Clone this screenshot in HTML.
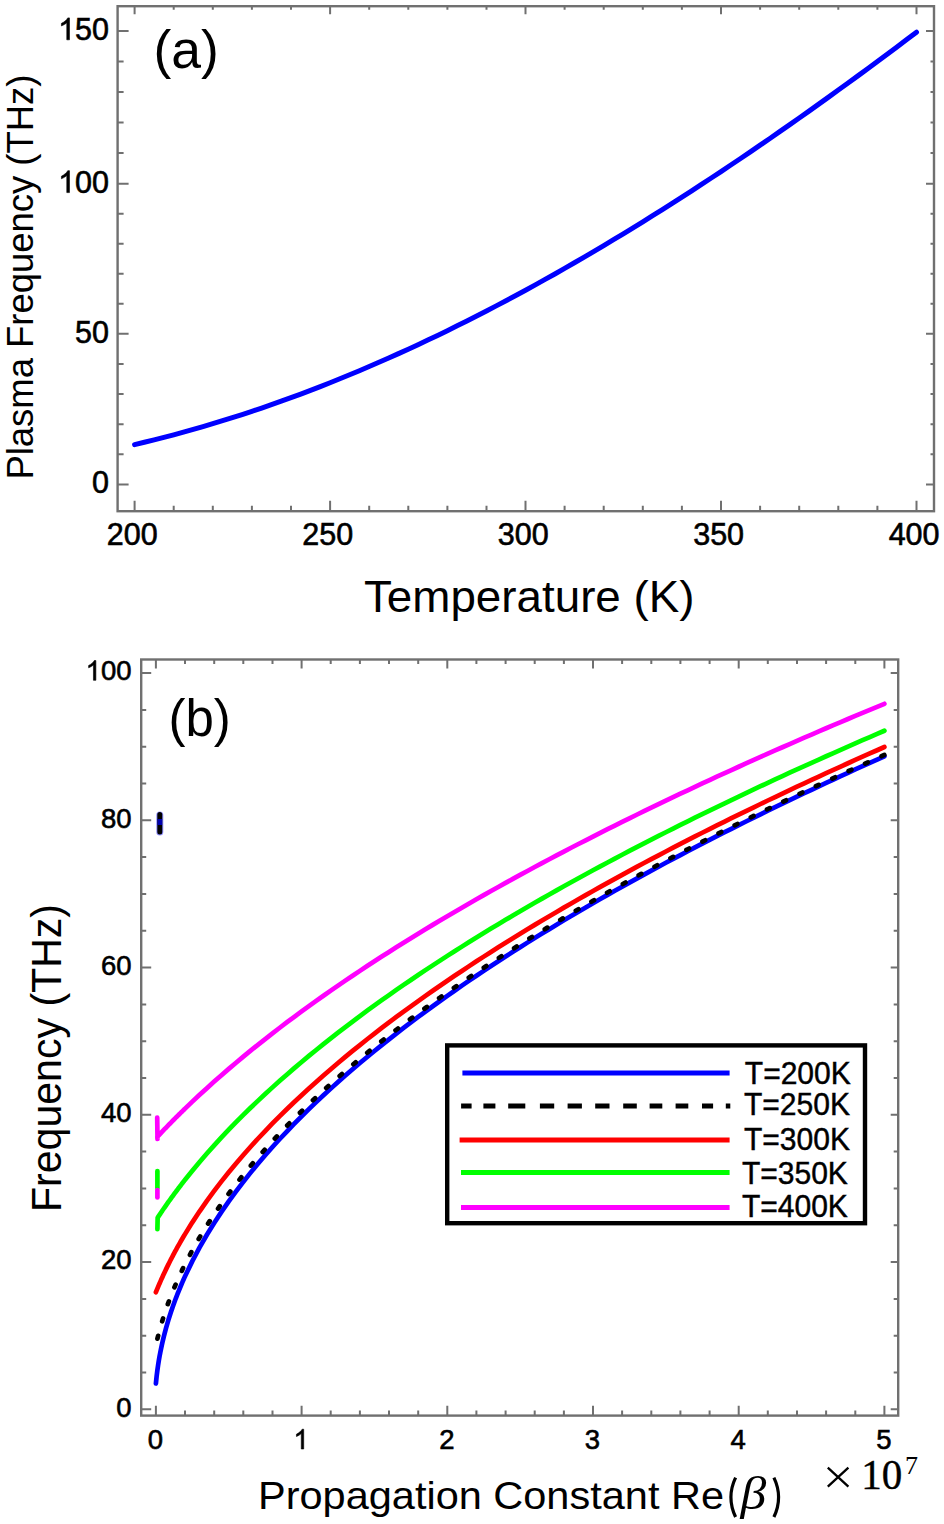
<!DOCTYPE html>
<html><head><meta charset="utf-8"><style>
html,body{margin:0;padding:0;background:#fff;}
svg{display:block;}
text{font-family:"Liberation Sans",sans-serif;fill:#000;}
</style></head><body>
<svg width="944" height="1524" viewBox="0 0 944 1524">
<rect width="944" height="1524" fill="#fff"/>
<rect x="117.6" y="6.2" width="816.4" height="505.0" fill="none" stroke="#707070" stroke-width="2.4"/>
<rect x="141.2" y="659.5" width="757.0" height="756.0999999999999" fill="none" stroke="#707070" stroke-width="2.4"/>
<path d="M134.6 511.2v-10.5M134.6 6.2v8M173.7 511.2v-5.5M173.7 6.2v3.5M212.8 511.2v-5.5M212.8 6.2v3.5M251.9 511.2v-5.5M251.9 6.2v3.5M291.0 511.2v-5.5M291.0 6.2v3.5M330.1 511.2v-10.5M330.1 6.2v8M369.2 511.2v-5.5M369.2 6.2v3.5M408.3 511.2v-5.5M408.3 6.2v3.5M447.4 511.2v-5.5M447.4 6.2v3.5M486.5 511.2v-5.5M486.5 6.2v3.5M525.5 511.2v-10.5M525.5 6.2v8M564.6 511.2v-5.5M564.6 6.2v3.5M603.7 511.2v-5.5M603.7 6.2v3.5M642.8 511.2v-5.5M642.8 6.2v3.5M681.9 511.2v-5.5M681.9 6.2v3.5M721.0 511.2v-10.5M721.0 6.2v8M760.1 511.2v-5.5M760.1 6.2v3.5M799.2 511.2v-5.5M799.2 6.2v3.5M838.3 511.2v-5.5M838.3 6.2v3.5M877.4 511.2v-5.5M877.4 6.2v3.5M916.5 511.2v-10.5M916.5 6.2v8M117.6 484.4h11M934.0 484.4h-8M117.6 454.3h6M934.0 454.3h-3.5M117.6 424.2h6M934.0 424.2h-3.5M117.6 394.0h6M934.0 394.0h-3.5M117.6 363.9h6M934.0 363.9h-3.5M117.6 333.8h11M934.0 333.8h-8M117.6 303.8h6M934.0 303.8h-3.5M117.6 273.8h6M934.0 273.8h-3.5M117.6 243.7h6M934.0 243.7h-3.5M117.6 213.7h6M934.0 213.7h-3.5M117.6 183.7h11M934.0 183.7h-8M117.6 153.1h6M934.0 153.1h-3.5M117.6 122.6h6M934.0 122.6h-3.5M117.6 92.0h6M934.0 92.0h-3.5M117.6 61.5h6M934.0 61.5h-3.5M117.6 30.9h11M934.0 30.9h-8M155.9 1415.6v-9.8M155.9 659.5v9M185.0 1415.6v-5M185.0 659.5v4.5M214.2 1415.6v-5M214.2 659.5v4.5M243.3 1415.6v-5M243.3 659.5v4.5M272.5 1415.6v-5M272.5 659.5v4.5M301.6 1415.6v-9.8M301.6 659.5v9M330.7 1415.6v-5M330.7 659.5v4.5M359.9 1415.6v-5M359.9 659.5v4.5M389.0 1415.6v-5M389.0 659.5v4.5M418.2 1415.6v-5M418.2 659.5v4.5M447.3 1415.6v-9.8M447.3 659.5v9M476.4 1415.6v-5M476.4 659.5v4.5M505.6 1415.6v-5M505.6 659.5v4.5M534.7 1415.6v-5M534.7 659.5v4.5M563.9 1415.6v-5M563.9 659.5v4.5M593.0 1415.6v-9.8M593.0 659.5v9M622.1 1415.6v-5M622.1 659.5v4.5M651.3 1415.6v-5M651.3 659.5v4.5M680.4 1415.6v-5M680.4 659.5v4.5M709.6 1415.6v-5M709.6 659.5v4.5M738.7 1415.6v-9.8M738.7 659.5v9M767.8 1415.6v-5M767.8 659.5v4.5M797.0 1415.6v-5M797.0 659.5v4.5M826.1 1415.6v-5M826.1 659.5v4.5M855.3 1415.6v-5M855.3 659.5v4.5M884.4 1415.6v-9.8M884.4 659.5v9M141.2 1409.3h10M898.2 1409.3h-7.5M141.2 1372.5h5M898.2 1372.5h-4.5M141.2 1335.7h5M898.2 1335.7h-4.5M141.2 1298.9h5M898.2 1298.9h-4.5M141.2 1262.1h10M898.2 1262.1h-7.5M141.2 1225.2h5M898.2 1225.2h-4.5M141.2 1188.4h5M898.2 1188.4h-4.5M141.2 1151.6h5M898.2 1151.6h-4.5M141.2 1114.8h10M898.2 1114.8h-7.5M141.2 1078.0h5M898.2 1078.0h-4.5M141.2 1041.2h5M898.2 1041.2h-4.5M141.2 1004.4h5M898.2 1004.4h-4.5M141.2 967.6h10M898.2 967.6h-7.5M141.2 930.8h5M898.2 930.8h-4.5M141.2 894.0h5M898.2 894.0h-4.5M141.2 857.1h5M898.2 857.1h-4.5M141.2 820.3h10M898.2 820.3h-7.5M141.2 783.5h5M898.2 783.5h-4.5M141.2 746.7h5M898.2 746.7h-4.5M141.2 709.9h5M898.2 709.9h-4.5M141.2 673.1h10M898.2 673.1h-7.5" stroke="#707070" stroke-width="2" fill="none"/>
<polyline points="134.60,444.63 144.37,442.30 154.15,439.88 163.92,437.39 173.69,434.81 183.47,432.16 193.24,429.42 203.02,426.61 212.79,423.71 222.56,420.73 232.34,417.68 242.11,414.54 251.88,411.32 261.66,408.02 271.43,404.65 281.21,401.19 290.98,397.65 300.75,394.04 310.53,390.35 320.30,386.57 330.07,382.72 339.85,378.80 349.62,374.79 359.40,370.71 369.17,366.56 378.94,362.33 388.72,358.02 398.49,353.64 408.26,349.19 418.04,344.66 427.81,340.06 437.59,335.39 447.36,330.65 457.13,325.83 466.91,320.95 476.68,315.99 486.46,310.97 496.23,305.88 506.00,300.72 515.78,295.50 525.55,290.21 535.32,284.85 545.10,279.43 554.87,273.95 564.64,268.40 574.42,262.79 584.19,257.11 593.97,251.38 603.74,245.58 613.51,239.73 623.29,233.81 633.06,227.84 642.84,221.81 652.61,215.72 662.38,209.58 672.16,203.38 681.93,197.12 691.70,190.81 701.48,184.45 711.25,178.03 721.02,171.56 730.80,165.04 740.57,158.47 750.35,151.85 760.12,145.17 769.89,138.45 779.67,131.68 789.44,124.86 799.22,118.00 808.99,111.09 818.76,104.13 828.54,97.13 838.31,90.08 848.08,82.99 857.86,75.86 867.63,68.68 877.40,61.46 887.18,54.20 896.95,46.90 906.73,39.55 916.50,32.17" fill="none" stroke="#0000ff" stroke-width="5" stroke-linecap="round" stroke-linejoin="round"/>
<polyline points="155.90,1383.53 156.63,1376.29 157.36,1370.37 158.09,1365.24 158.81,1360.65 159.54,1356.45 160.27,1352.57 161.00,1348.93 161.73,1345.50 162.46,1342.25 163.19,1339.15 163.91,1336.18 164.64,1333.32 165.37,1330.57 166.10,1327.91 166.83,1325.34 167.56,1322.84 168.28,1320.41 169.01,1318.05 169.74,1315.74 170.47,1313.49 171.20,1311.30 171.93,1309.15 172.66,1307.05 173.38,1304.99 174.11,1302.96 174.84,1300.98 175.57,1299.03 176.30,1297.12 177.03,1295.24 177.75,1293.39 178.48,1291.56 179.21,1289.77 179.94,1288.00 180.67,1286.26 181.40,1284.54 182.13,1282.85 182.85,1281.17 183.58,1279.52 184.31,1277.89 185.04,1276.28 192.32,1261.14 199.61,1247.41 206.89,1234.76 214.18,1222.96 221.46,1211.87 228.75,1201.36 236.04,1191.37 243.32,1181.81 250.60,1172.64 257.89,1163.81 265.18,1155.28 272.46,1147.04 279.75,1139.04 287.03,1131.28 294.31,1123.72 301.60,1116.37 308.88,1109.19 316.17,1102.18 323.45,1095.32 330.74,1088.61 338.02,1082.04 345.31,1075.60 352.59,1069.28 359.88,1063.08 367.16,1056.98 374.45,1050.99 381.73,1045.10 389.02,1039.30 396.30,1033.59 403.59,1027.97 410.87,1022.43 418.16,1016.96 425.44,1011.57 432.73,1006.26 440.01,1001.01 447.30,995.83 454.58,990.71 461.87,985.66 469.15,980.66 476.44,975.73 483.73,970.84 491.01,966.02 498.29,961.24 505.58,956.51 512.87,951.84 520.15,947.21 527.43,942.62 534.72,938.08 542.00,933.59 549.29,929.13 556.57,924.72 563.86,920.35 571.14,916.01 578.43,911.72 585.71,907.46 593.00,903.23 600.28,899.04 607.57,894.89 614.85,890.77 622.14,886.68 629.42,882.62 636.71,878.59 644.00,874.60 651.28,870.63 658.56,866.70 665.85,862.79 673.13,858.90 680.42,855.05 687.70,851.22 694.99,847.42 702.27,843.65 709.56,839.90 716.84,836.17 724.13,832.47 731.41,828.79 738.70,825.13 745.98,821.50 753.27,817.89 760.55,814.30 767.84,810.73 775.12,807.19 782.41,803.66 789.69,800.16 796.98,796.67 804.26,793.21 811.55,789.76 818.83,786.34 826.12,782.93 833.40,779.54 840.69,776.17 847.97,772.82 855.26,769.48 862.54,766.16 869.83,762.86 877.11,759.58 884.40,756.31" fill="none" stroke="#0000ff" stroke-width="4.7" stroke-linecap="round" stroke-linejoin="round"/>
<polyline points="155.90,1345.25 156.63,1342.02 157.36,1338.94 158.09,1335.99 158.81,1333.15 159.54,1330.41 160.27,1327.77 161.00,1325.21 161.73,1322.73 162.46,1320.31 163.19,1317.96 163.91,1315.67 164.64,1313.43 165.37,1311.24 166.10,1309.10 166.83,1307.01 167.56,1304.95 168.28,1302.94 169.01,1300.97 169.74,1299.03 170.47,1297.12 171.20,1295.24 171.93,1293.40 172.66,1291.59 173.38,1289.80 174.11,1288.04 174.84,1286.30 175.57,1284.59 176.30,1282.90 177.03,1281.23 177.75,1279.59 178.48,1277.96 179.21,1276.36 179.94,1274.77 180.67,1273.20 181.40,1271.66 182.13,1270.12 182.85,1268.61 183.58,1267.11 184.31,1265.62 185.04,1264.16 192.32,1250.22 199.61,1237.40 206.89,1225.48 214.18,1214.28 221.46,1203.70 228.75,1193.63 236.04,1184.01 243.32,1174.79 250.60,1165.91 257.89,1157.35 265.18,1149.07 272.46,1141.05 279.75,1133.26 287.03,1125.68 294.31,1118.30 301.60,1111.10 308.88,1104.07 316.17,1097.20 323.45,1090.48 330.74,1083.90 338.02,1077.44 345.31,1071.11 352.59,1064.90 359.88,1058.80 367.16,1052.80 374.45,1046.90 381.73,1041.09 389.02,1035.38 396.30,1029.75 403.59,1024.20 410.87,1018.74 418.16,1013.34 425.44,1008.02 432.73,1002.77 440.01,997.59 447.30,992.47 454.58,987.42 461.87,982.42 469.15,977.48 476.44,972.60 483.73,967.77 491.01,962.99 498.29,958.26 505.58,953.59 512.87,948.96 520.15,944.37 527.43,939.84 534.72,935.34 542.00,930.89 549.29,926.47 556.57,922.10 563.86,917.77 571.14,913.47 578.43,909.22 585.71,904.99 593.00,900.81 600.28,896.65 607.57,892.53 614.85,888.44 622.14,884.39 629.42,880.37 636.71,876.37 644.00,872.41 651.28,868.47 658.56,864.56 665.85,860.69 673.13,856.83 680.42,853.01 687.70,849.21 694.99,845.44 702.27,841.69 709.56,837.96 716.84,834.27 724.13,830.59 731.41,826.94 738.70,823.31 745.98,819.70 753.27,816.11 760.55,812.55 767.84,809.01 775.12,805.48 782.41,801.98 789.69,798.50 796.98,795.04 804.26,791.60 811.55,788.17 818.83,784.77 826.12,781.38 833.40,778.01 840.69,774.66 847.97,771.33 855.26,768.02 862.54,764.72 869.83,761.44 877.11,758.17 884.40,754.92" fill="none" stroke="#000" stroke-width="4.7" stroke-linecap="round" stroke-dasharray="3 15.04" stroke-dashoffset="11.3"/>
<polyline points="155.90,1292.24 156.63,1290.44 157.36,1288.67 158.09,1286.92 158.81,1285.20 159.54,1283.50 160.27,1281.82 161.00,1280.16 161.73,1278.53 162.46,1276.91 163.19,1275.32 163.91,1273.74 164.64,1272.18 165.37,1270.64 166.10,1269.12 166.83,1267.61 167.56,1266.12 168.28,1264.64 169.01,1263.18 169.74,1261.73 170.47,1260.30 171.20,1258.88 171.93,1257.48 172.66,1256.08 173.38,1254.70 174.11,1253.34 174.84,1251.98 175.57,1250.63 176.30,1249.30 177.03,1247.98 177.75,1246.67 178.48,1245.37 179.21,1244.07 179.94,1242.79 180.67,1241.52 181.40,1240.26 182.13,1239.01 182.85,1237.77 183.58,1236.53 184.31,1235.31 185.04,1234.09 192.32,1222.36 199.61,1211.32 206.89,1200.86 214.18,1190.91 221.46,1181.39 228.75,1172.25 236.04,1163.45 243.32,1154.95 250.60,1146.73 257.89,1138.76 265.18,1131.02 272.46,1123.49 279.75,1116.15 287.03,1108.99 294.31,1101.99 301.60,1095.16 308.88,1088.46 316.17,1081.91 323.45,1075.48 330.74,1069.18 338.02,1062.99 345.31,1056.91 352.59,1050.93 359.88,1045.05 367.16,1039.26 374.45,1033.56 381.73,1027.95 389.02,1022.42 396.30,1016.97 403.59,1011.59 410.87,1006.28 418.16,1001.04 425.44,995.87 432.73,990.76 440.01,985.72 447.30,980.73 454.58,975.80 461.87,970.93 469.15,966.11 476.44,961.34 483.73,956.62 491.01,951.95 498.29,947.33 505.58,942.76 512.87,938.22 520.15,933.73 527.43,929.29 534.72,924.88 542.00,920.52 549.29,916.19 556.57,911.90 563.86,907.65 571.14,903.43 578.43,899.25 585.71,895.10 593.00,890.98 600.28,886.90 607.57,882.85 614.85,878.83 622.14,874.84 629.42,870.88 636.71,866.94 644.00,863.04 651.28,859.17 658.56,855.32 665.85,851.50 673.13,847.70 680.42,843.93 687.70,840.18 694.99,836.46 702.27,832.77 709.56,829.09 716.84,825.44 724.13,821.81 731.41,818.21 738.70,814.62 745.98,811.06 753.27,807.52 760.55,804.00 767.84,800.50 775.12,797.02 782.41,793.56 789.69,790.12 796.98,786.70 804.26,783.30 811.55,779.91 818.83,776.54 826.12,773.20 833.40,769.86 840.69,766.55 847.97,763.25 855.26,759.97 862.54,756.71 869.83,753.46 877.11,750.23 884.40,747.01" fill="none" stroke="#ff0000" stroke-width="4.7" stroke-linecap="round" stroke-linejoin="round"/>
<polyline points="157.40,1229.10 157.65,1217.70 158.33,1216.66 159.02,1215.63 159.70,1214.60 160.39,1213.58 161.07,1212.56 161.76,1211.55 162.44,1210.54 163.13,1209.54 163.81,1208.54 164.50,1207.55 165.18,1206.57 165.87,1205.58 166.55,1204.61 167.24,1203.63 167.92,1202.66 168.61,1201.70 169.29,1200.74 169.97,1199.79 170.66,1198.84 171.34,1197.89 172.03,1196.95 172.71,1196.01 173.40,1195.08 174.08,1194.15 174.77,1193.22 175.45,1192.30 176.14,1191.38 176.82,1190.47 177.51,1189.56 178.19,1188.65 178.88,1187.75 179.56,1186.85 180.25,1185.95 180.93,1185.06 181.62,1184.17 182.30,1183.29 182.99,1182.40 183.67,1181.53 184.36,1180.65 185.04,1179.78 192.32,1170.71 199.61,1161.97 206.89,1153.52 214.18,1145.35 221.46,1137.43 228.75,1129.72 236.04,1122.23 243.32,1114.92 250.60,1107.80 257.89,1100.83 265.18,1094.02 272.46,1087.36 279.75,1080.83 287.03,1074.42 294.31,1068.14 301.60,1061.97 308.88,1055.91 316.17,1049.95 323.45,1044.09 330.74,1038.32 338.02,1032.64 345.31,1027.04 352.59,1021.53 359.88,1016.09 367.16,1010.73 374.45,1005.43 381.73,1000.21 389.02,995.05 396.30,989.95 403.59,984.92 410.87,979.94 418.16,975.03 425.44,970.16 432.73,965.35 440.01,960.60 447.30,955.89 454.58,951.23 461.87,946.62 469.15,942.05 476.44,937.53 483.73,933.04 491.01,928.61 498.29,924.21 505.58,919.85 512.87,915.53 520.15,911.25 527.43,907.00 534.72,902.79 542.00,898.62 549.29,894.48 556.57,890.37 563.86,886.29 571.14,882.25 578.43,878.23 585.71,874.25 593.00,870.29 600.28,866.37 607.57,862.47 614.85,858.60 622.14,854.76 629.42,850.94 636.71,847.15 644.00,843.39 651.28,839.64 658.56,835.93 665.85,832.24 673.13,828.57 680.42,824.92 687.70,821.30 694.99,817.70 702.27,814.12 709.56,810.56 716.84,807.03 724.13,803.51 731.41,800.02 738.70,796.54 745.98,793.08 753.27,789.65 760.55,786.23 767.84,782.83 775.12,779.45 782.41,776.09 789.69,772.74 796.98,769.41 804.26,766.10 811.55,762.81 818.83,759.53 826.12,756.27 833.40,753.03 840.69,749.80 847.97,746.59 855.26,743.39 862.54,740.21 869.83,737.05 877.11,733.89 884.40,730.76" fill="none" stroke="#00ff00" stroke-width="4.7" stroke-linecap="round" stroke-linejoin="round"/>
<polyline points="157.20,1117.50 157.50,1139.00 157.36,1136.74 158.05,1136.00 158.74,1135.27 159.43,1134.53 160.13,1133.80 160.82,1133.07 161.51,1132.34 162.20,1131.61 162.89,1130.89 163.59,1130.17 164.28,1129.44 164.97,1128.73 165.66,1128.01 166.35,1127.29 167.05,1126.58 167.74,1125.87 168.43,1125.16 169.12,1124.45 169.81,1123.74 170.51,1123.04 171.20,1122.33 171.89,1121.63 172.58,1120.93 173.27,1120.23 173.97,1119.54 174.66,1118.84 175.35,1118.15 176.04,1117.46 176.74,1116.77 177.43,1116.08 178.12,1115.39 178.81,1114.71 179.50,1114.03 180.20,1113.34 180.89,1112.66 181.58,1111.99 182.27,1111.31 182.96,1110.63 183.66,1109.96 184.35,1109.29 185.04,1108.61 192.32,1101.64 199.61,1094.82 206.89,1088.15 214.18,1081.61 221.46,1075.19 228.75,1068.90 236.04,1062.73 243.32,1056.66 250.60,1050.69 257.89,1044.83 265.18,1039.05 272.46,1033.36 279.75,1027.76 287.03,1022.24 294.31,1016.80 301.60,1011.43 308.88,1006.13 316.17,1000.91 323.45,995.74 330.74,990.65 338.02,985.61 345.31,980.63 352.59,975.71 359.88,970.84 367.16,966.03 374.45,961.27 381.73,956.56 389.02,951.90 396.30,947.29 403.59,942.72 410.87,938.19 418.16,933.71 425.44,929.27 432.73,924.87 440.01,920.51 447.30,916.19 454.58,911.91 461.87,907.66 469.15,903.45 476.44,899.27 483.73,895.13 491.01,891.02 498.29,886.94 505.58,882.89 512.87,878.88 520.15,874.90 527.43,870.94 534.72,867.01 542.00,863.12 549.29,859.25 556.57,855.40 563.86,851.58 571.14,847.79 578.43,844.03 585.71,840.29 593.00,836.57 600.28,832.88 607.57,829.21 614.85,825.56 622.14,821.94 629.42,818.34 636.71,814.76 644.00,811.20 651.28,807.67 658.56,804.15 665.85,800.66 673.13,797.18 680.42,793.72 687.70,790.29 694.99,786.87 702.27,783.47 709.56,780.09 716.84,776.73 724.13,773.38 731.41,770.05 738.70,766.74 745.98,763.45 753.27,760.17 760.55,756.91 767.84,753.67 775.12,750.44 782.41,747.23 789.69,744.03 796.98,740.85 804.26,737.69 811.55,734.54 818.83,731.40 826.12,728.28 833.40,725.17 840.69,722.07 847.97,718.99 855.26,715.93 862.54,712.87 869.83,709.84 877.11,706.81 884.40,703.80" fill="none" stroke="#ff00ff" stroke-width="4.7" stroke-linecap="round" stroke-linejoin="round"/>
<path d="M157.4 1171V1188" stroke="#00ff00" stroke-width="4.7" stroke-linecap="round"/>
<path d="M157.4 1190V1197.5" stroke="#ff00ff" stroke-width="4.7" stroke-linecap="round"/>
<path d="M159.8 815V832" stroke="#9090ff" stroke-width="7" stroke-linecap="round"/>
<path d="M159.8 814.5V832" stroke="#000" stroke-width="5" stroke-linecap="round"/>
<path d="M159.8 819V825" stroke="#0000b0" stroke-width="4.6"/>
<rect x="447.2" y="1045.4" width="417.8" height="177.8" fill="#fff" stroke="#000" stroke-width="4.4"/>
<path d="M462.4 1073.0H729.6" stroke="#0000ff" stroke-width="5"/>
<path d="M459.6 1140.1H729.6" stroke="#ff0000" stroke-width="5"/>
<path d="M461 1172.6H729.6" stroke="#00ff00" stroke-width="5"/>
<path d="M461 1207.4H729.6" stroke="#ff00ff" stroke-width="5"/>
<path d="M461.1 1106.0H471.6M483.4 1106.0H495.4M508.2 1106.0H525.3M539.9 1106.0H554.2M567.6 1106.0H581.9M595.2 1106.0H609.5M623.2 1106.0H636.8M649.6 1106.0H662.3M675.6 1106.0H688.3M702 1106.0H713.1M725.8 1106.0H730.3" stroke="#000" stroke-width="4.8"/>
<text x="744.8" y="1083.5" font-size="31" textLength="106" lengthAdjust="spacingAndGlyphs" stroke="#000" stroke-width="0.45">T=200K</text>
<text x="744.0" y="1115.4" font-size="31" textLength="106" lengthAdjust="spacingAndGlyphs" stroke="#000" stroke-width="0.45">T=250K</text>
<text x="744.0" y="1150.1" font-size="31" textLength="106" lengthAdjust="spacingAndGlyphs" stroke="#000" stroke-width="0.45">T=300K</text>
<text x="741.9" y="1184.4" font-size="31" textLength="106" lengthAdjust="spacingAndGlyphs" stroke="#000" stroke-width="0.45">T=350K</text>
<text x="741.9" y="1216.6" font-size="31" textLength="106" lengthAdjust="spacingAndGlyphs" stroke="#000" stroke-width="0.45">T=400K</text>
<text x="106.76" y="545.00" font-size="30.5" stroke="#000" stroke-width="0.6">200</text>
<text x="302.23" y="545.00" font-size="30.5" stroke="#000" stroke-width="0.6">250</text>
<text x="497.71" y="545.00" font-size="30.5" stroke="#000" stroke-width="0.6">300</text>
<text x="693.18" y="545.00" font-size="30.5" stroke="#000" stroke-width="0.6">350</text>
<text x="888.66" y="545.00" font-size="30.5" stroke="#000" stroke-width="0.6">400</text>
<text x="92.04" y="493.30" font-size="30.5" stroke="#000" stroke-width="0.6">0</text>
<text x="75.07" y="342.70" font-size="30.5" stroke="#000" stroke-width="0.6">50</text>
<text x="58.11" y="192.60" font-size="30.5" stroke="#000" stroke-width="0.6"> 00</text>
<path d="M763 0H583V1147Q518 1085 412 1023Q307 961 223 930V1104Q374 1175 487 1276Q600 1377 647 1472H763Z" transform="translate(58.11 192.60) scale(0.01489 -0.01489)" fill="#000" stroke="#000" stroke-width="40.3"/>
<text x="58.11" y="39.80" font-size="30.5" stroke="#000" stroke-width="0.6"> 50</text>
<path d="M763 0H583V1147Q518 1085 412 1023Q307 961 223 930V1104Q374 1175 487 1276Q600 1377 647 1472H763Z" transform="translate(58.11 39.80) scale(0.01489 -0.01489)" fill="#000" stroke="#000" stroke-width="40.3"/>
<text x="153.5" y="68.2" font-size="53.5">(a)</text>
<text x="364" y="611.9" font-size="44.5" textLength="330.5" lengthAdjust="spacingAndGlyphs">Temperature (K)</text>
<text transform="translate(33.2 479.6) rotate(-90)" font-size="37" textLength="405" lengthAdjust="spacingAndGlyphs">Plasma Frequency (THz)</text>
<text x="147.75" y="1449.00" font-size="27.5" stroke="#000" stroke-width="0.6">0</text>
<text x="293.45" y="1449.00" font-size="27.5" stroke="#000" stroke-width="0.6"> </text>
<path d="M763 0H583V1147Q518 1085 412 1023Q307 961 223 930V1104Q374 1175 487 1276Q600 1377 647 1472H763Z" transform="translate(293.45 1449.00) scale(0.01343 -0.01343)" fill="#000" stroke="#000" stroke-width="44.7"/>
<text x="439.15" y="1449.00" font-size="27.5" stroke="#000" stroke-width="0.6">2</text>
<text x="584.85" y="1449.00" font-size="27.5" stroke="#000" stroke-width="0.6">3</text>
<text x="730.55" y="1449.00" font-size="27.5" stroke="#000" stroke-width="0.6">4</text>
<text x="876.25" y="1449.00" font-size="27.5" stroke="#000" stroke-width="0.6">5</text>
<text x="116.21" y="1416.50" font-size="27.5" stroke="#000" stroke-width="0.6">0</text>
<text x="100.91" y="1269.26" font-size="27.5" stroke="#000" stroke-width="0.6">20</text>
<text x="100.91" y="1122.02" font-size="27.5" stroke="#000" stroke-width="0.6">40</text>
<text x="100.91" y="974.78" font-size="27.5" stroke="#000" stroke-width="0.6">60</text>
<text x="100.91" y="827.54" font-size="27.5" stroke="#000" stroke-width="0.6">80</text>
<text x="85.62" y="680.30" font-size="27.5" stroke="#000" stroke-width="0.6"> 00</text>
<path d="M763 0H583V1147Q518 1085 412 1023Q307 961 223 930V1104Q374 1175 487 1276Q600 1377 647 1472H763Z" transform="translate(85.62 680.30) scale(0.01343 -0.01343)" fill="#000" stroke="#000" stroke-width="44.7"/>
<text x="168.5" y="736" font-size="51">(b)</text>
<text transform="translate(61 1212) rotate(-90)" font-size="42.5" textLength="308" lengthAdjust="spacingAndGlyphs">Frequency (THz)</text>
<text x="258" y="1509" font-size="39.5" textLength="466" lengthAdjust="spacingAndGlyphs">Propagation Constant Re</text>
<path d="M735.6 1477.6Q726.2 1497.3 735.6 1517" stroke="#000" stroke-width="3.2" fill="none"/>
<path d="M773.9 1477.6Q783.3 1497.3 773.9 1517" stroke="#000" stroke-width="3.2" fill="none"/>
<text x="740.6" y="1509.4" font-size="46.9" textLength="25.7" lengthAdjust="spacingAndGlyphs" style="font-family:Liberation Serif;font-style:italic">β</text>
<path d="M827.8 1467.6L848.4 1486.6M848.4 1467.6L827.8 1486.6" stroke="#000" stroke-width="2.3" stroke-linecap="butt"/>
<text x="861.3" y="1489" font-size="41.5" textLength="41" lengthAdjust="spacingAndGlyphs" stroke="#000" stroke-width="0.4" style="font-family:Liberation Serif">10</text>
<text x="905" y="1474" font-size="26" style="font-family:Liberation Serif">7</text>
</svg></body></html>
